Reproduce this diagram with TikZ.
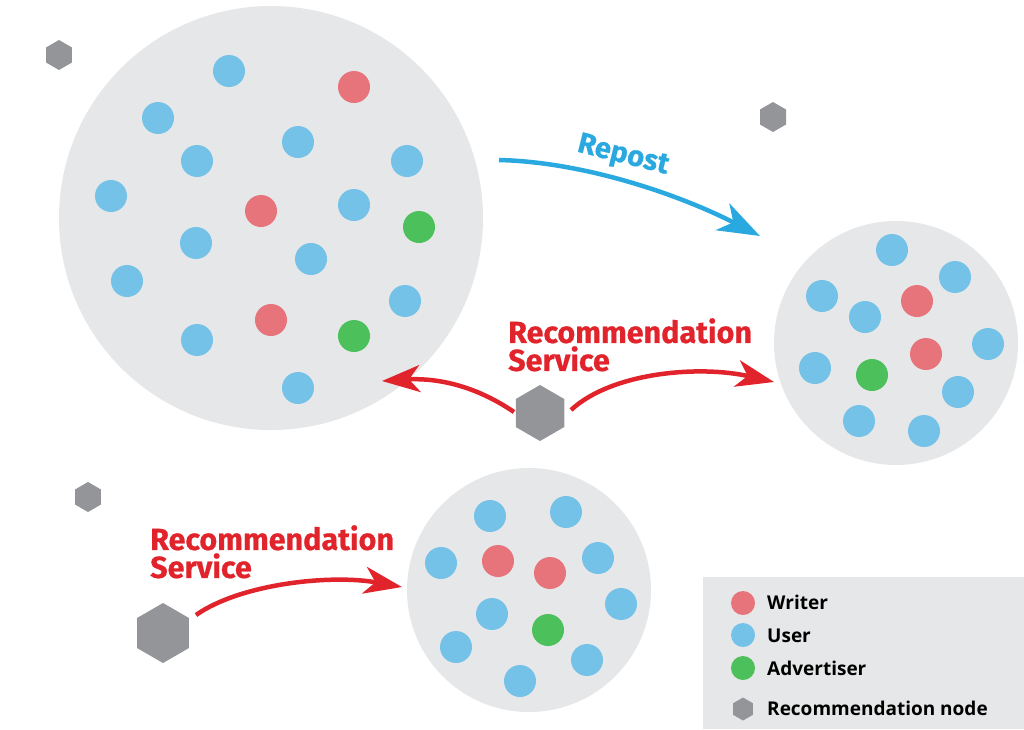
\documentclass[tikz,border=0pt]{standalone}
\usepackage{fontspec}
\setmainfont{Open Sans}
\newfontfamily\fira{Fira Sans}[BoldFeatures={FakeBold=0.6}]
\usetikzlibrary{shapes.geometric,arrows.meta,calc}
\definecolor{bgc}{HTML}{E6E7E8}
\definecolor{ublue}{HTML}{74C2E8}
\definecolor{wred}{HTML}{E8747B}
\definecolor{agreen}{HTML}{4CC05A}
\definecolor{hexc}{HTML}{939598}
\definecolor{redc}{HTML}{E1232B}
\definecolor{bluec}{HTML}{29A9DF}
\begin{document}
\begin{tikzpicture}[x=1pt,y=-1pt,
  group/.style={circle, fill=bgc, inner sep=0pt, outer sep=0pt, minimum size=#1},
  udot/.style={circle, fill=ublue, inner sep=0pt, minimum size=32pt},
  wdot/.style={circle, fill=wred, inner sep=0pt, minimum size=32pt},
  adot/.style={circle, fill=agreen, inner sep=0pt, minimum size=32pt},
  hexa/.style={regular polygon, regular polygon sides=6, shape border rotate=30, fill=hexc, inner sep=0pt, outer sep=0pt, minimum size=#1},
  redarr/.style={draw=redc, line width=4.5pt, -{Stealth[length=38pt,width=27pt,inset=11pt]}},
  bluearr/.style={draw=bluec, line width=4.5pt, -{Stealth[length=42pt,width=30pt,inset=12pt]}},
  redtext/.style={text=redc, font=\fira\bfseries\fontsize{30.5}{28}\selectfont, align=left, inner sep=0pt, anchor=north west},
  legtext/.style={font=\bfseries\fontsize{19}{24}\selectfont, anchor=base west, inner sep=0pt},
  ldot/.style={circle, inner sep=0pt, minimum size=24pt}
]
\useasboundingbox (0,0) rectangle (1024,729);

% groups
\node[group=424pt] (big) at (271,218) {};
\node[group=244pt] (right) at (896,343) {};
\node[group=244pt] (bottom) at (529,590) {};

% big group dots
\foreach \x/\y [count=\i] in {229/71,158/118,298/142,197/161,407/161,111/196,354/205,196/243,311/259,127/281,405/301,197/340,298/388}
  \node[udot] (bu\i) at (\x,\y) {};
\foreach \x/\y [count=\i] in {354/87,261/211,271/320}
  \node[wdot] (bw\i) at (\x,\y) {};
\foreach \x/\y [count=\i] in {419/227,354/336}
  \node[adot] (ba\i) at (\x,\y) {};

% right group dots
\foreach \x/\y [count=\i] in {892/250,955/277,822/296,865/317,988/344,815/368,958/392,859/421,924/431}
  \node[udot] (ru\i) at (\x,\y) {};
\foreach \x/\y [count=\i] in {917/301,926/354}
  \node[wdot] (rw\i) at (\x,\y) {};
\node[adot] (ra1) at (872,375) {};

% bottom group dots
\foreach \x/\y [count=\i] in {490/516,566/512,441/563,598/558,621/604,492/614,456/647,587/660,520/681}
  \node[udot] (mu\i) at (\x,\y) {};
\foreach \x/\y [count=\i] in {498/561,550/573}
  \node[wdot] (mw\i) at (\x,\y) {};
\node[adot] (ma1) at (548,630) {};

% hexagons
\node[hexa=30pt] (h1) at (59,55) {};
\node[hexa=30pt] (h2) at (773,117) {};
\node[hexa=30pt] (h3) at (88,497) {};
\node[hexa=56pt] (hm) at (540,413) {};
\node[hexa=60pt] (hb) at (163,633) {};

% arrows
\coordinate (repS) at (499,160);
\coordinate (repT) at (760,236);
\draw[bluearr] (repS) .. controls (585,162) and (680,195) .. (repT);
\node[text=bluec, font=\fira\bfseries\fontsize{29}{30}\selectfont, rotate=-14, inner sep=0pt] (reptext) at (623,156) {Repost};

\coordinate (tipL) at (382,381);
\coordinate (tipR) at (774,382);
\coordinate (tipB) at (402,587);
\draw[redarr] ($(hm.center)+(-26,-1)$) .. controls (470,382) and (430,378) .. (tipL);
\draw[redarr] ($(hm.center)+(31,-3)$) .. controls (612,372) and (700,365) .. (tipR);
\draw[redarr] ($(hb.center)+(33,-18)$) .. controls (240,584) and (330,574) .. (tipB);

\node[redtext] (rs1) at (508,318) {Recommendation\\Service};
\node[redtext] (rs2) at (150,525) {Recommendation\\Service};

% legend
\node[fill=bgc, inner sep=0pt, outer sep=0pt, minimum width=321pt, minimum height=152pt, anchor=north west] (legend) at (703,577) {};
\node[ldot, fill=wred] (lw) at (743,603) {};
\node[ldot, fill=ublue] (lu) at (743,635) {};
\node[ldot, fill=agreen] (la) at (743,668) {};
\node[hexa=23pt] (lh) at (743,709) {};
\node[legtext] (tw) at (767,609) {Writer};
\node[legtext] (tu) at (767,642) {User};
\node[legtext] (ta) at (767,675) {Advertiser};
\node[legtext] (th) at (767,715) {Recommendation node};
\end{tikzpicture}
\end{document}
